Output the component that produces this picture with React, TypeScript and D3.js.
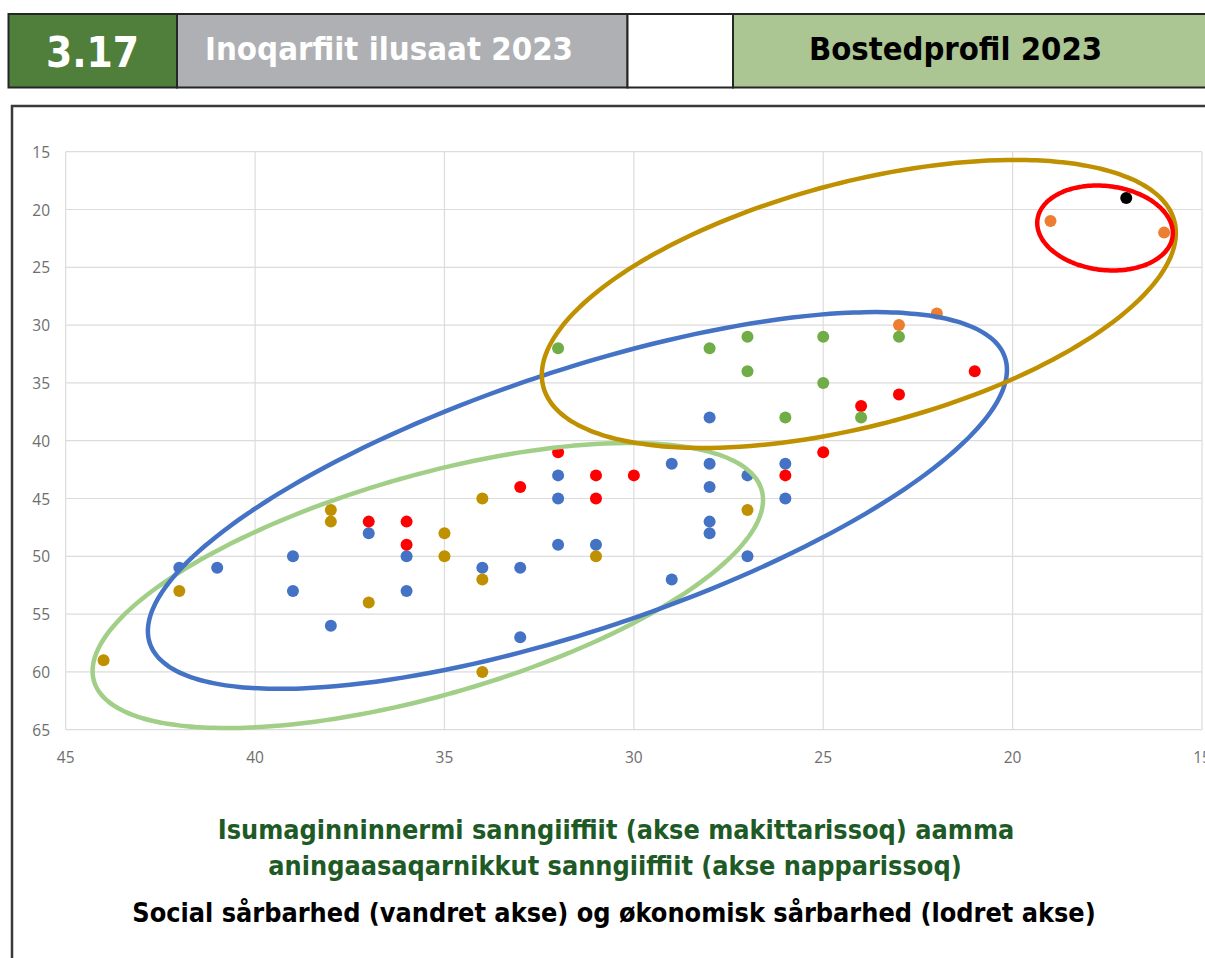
import React from 'react';
import * as d3 from 'd3';

const W = 1205;
const H = 958;

// Axis ticks
const xTicks = [45, 40, 35, 30, 25, 20, 15];
const yTicks = [15, 20, 25, 30, 35, 40, 45, 50, 55, 60, 65];

// Series (x = social vulnerability, y = economic vulnerability)
const blueX = [42, 41, 39, 39, 38, 37, 36, 36, 34, 33, 33, 32, 32, 32, 31, 29, 29, 28, 28, 28, 28, 28, 27, 27, 26, 26];
const blueY = [51, 51, 50, 53, 56, 48, 50, 53, 51, 51, 57, 43, 45, 49, 49, 42, 52, 38, 42, 44, 47, 48, 43, 50, 42, 45];

const goldX = [44, 42, 38, 38, 37, 35, 35, 34, 34, 34, 31, 27];
const goldY = [59, 53, 46, 47, 54, 48, 50, 45, 52, 60, 50, 46];

const redX = [37, 36, 36, 33, 32, 31, 31, 30, 26, 25, 24, 23, 21];
const redY = [47, 47, 49, 44, 41, 43, 45, 43, 43, 41, 37, 36, 34];

const greenX = [32, 28, 27, 27, 26, 25, 25, 24, 23];
const greenY = [32, 32, 31, 34, 38, 31, 35, 38, 31];

const orangeX = [23, 22, 19, 16];
const orangeY = [30, 29, 21, 22];

const blackX = [17];
const blackY = [19];

// Group ellipses in data units: centre, x-extreme point, vertical conjugate half-length
const ellipseNames = ['lightgreen', 'blue', 'gold', 'red'];
const ellipseCx = [35.44, 31.49, 24.06, 17.56];
const ellipseCy = [52.53, 45.17, 28.17, 21.6];
const ellipseEx = [26.59, 20.15, 15.69, 15.77];
const ellipseEy = [45.13, 33.88, 22.03, 22.03];
const ellipseV = [9.86, 11.75, 10.84, 3.65];

const C = {
  blue: '#4472C4',
  gold: '#BF9000',
  red: '#FF0000',
  green: '#70AD47',
  orange: '#ED7D31',
  black: '#000000',
};

const ellipseColors: Record<string, string> = {
  lightgreen: '#A2CF87',
  blue: '#4472C4',
  gold: '#BF9000',
  red: '#FF0000',
};

const x = d3.scaleLinear().domain([45, 15]).range([65.7, 1202]);
const y = d3.scaleLinear().domain([15, 65]).range([151.7, 729.7]);

function ellipsePath(i: number): string {
  const cx = ellipseCx[i], cy = ellipseCy[i];
  const ux = ellipseEx[i] - cx, uy = ellipseEy[i] - cy;
  const v = ellipseV[i];
  const pts: [number, number][] = d3.range(0, 360, 2).map((deg) => {
    const t = (deg * Math.PI) / 180;
    const dx = cx + ux * Math.cos(t);
    const dy = cy + uy * Math.cos(t) + v * Math.sin(t);
    return [x(dx), y(dy)];
  });
  return d3.line().curve(d3.curveCardinalClosed)(pts) || '';
}

const series = [
  { xs: blueX, ys: blueY, color: C.blue },
  { xs: goldX, ys: goldY, color: C.gold },
  { xs: redX, ys: redY, color: C.red },
  { xs: greenX, ys: greenY, color: C.green },
  { xs: orangeX, ys: orangeY, color: C.orange },
  { xs: blackX, ys: blackY, color: C.black },
];

const headFont = '"DejaVu Sans Condensed", "DejaVu Sans", Verdana, sans-serif';
const tickFont = '"Open Sans", "Liberation Sans", sans-serif';

export default function App() {
  const [x0, x1] = x.range();
  const [y0, y1] = y.range();
  return (
    <svg
      width={W}
      height={H}
      style={{ position: 'absolute', left: 0, top: 0, background: '#fff' }}
    >
      <rect x={0} y={0} width={W} height={H} fill="#ffffff" />
      {/* Header */}
      <g stroke="#262626" strokeWidth={2}>
        <rect x={8.5} y={14} width={168.5} height={73.5} fill="#507F3B" />
        <rect x={177} y={14} width={450.5} height={73.5} fill="#AEB0B3" />
        <rect x={627.5} y={14} width={105.5} height={73.5} fill="#FFFFFF" />
        <rect x={733} y={14} width={490} height={73.5} fill="#ABC593" />
      </g>
      <text x={92.5} y={67} textAnchor="middle" fill="#fff" fontFamily={headFont} fontWeight="bold" fontSize={42}>
        3.17
      </text>
      <text x={205} y={60} fill="#fff" fontFamily={headFont} fontWeight="bold" fontSize={32.7}>
        Inoqarfiit ilusaat 2023
      </text>
      <text x={955.5} y={60} textAnchor="middle" fill="#000" fontFamily={headFont} fontWeight="bold" fontSize={32.5}>
        Bostedprofil 2023
      </text>

      {/* Chart frame */}
      <rect x={12} y={106} width={1230} height={900} fill="none" stroke="#3a3a3a" strokeWidth={2.5} />

      {/* Grid */}
      <g stroke="#DCDCDC" strokeWidth={1.2}>
        {yTicks.map((t) => (
          <line key={'gy' + t} x1={x0} x2={x1} y1={y(t)} y2={y(t)} />
        ))}
        {xTicks.map((t) => (
          <line key={'gx' + t} x1={x(t)} x2={x(t)} y1={y0} y2={y1} />
        ))}
      </g>

      {/* Tick labels */}
      <g fill="#6E6E6E" fontFamily={tickFont} fontSize={15.5}>
        {yTicks.map((t) => (
          <text key={'ty' + t} x={50} y={y(t)} textAnchor="end" dominantBaseline="central">
            {t}
          </text>
        ))}
        {xTicks.map((t) => (
          <text key={'tx' + t} x={x(t)} y={757} textAnchor="middle" dominantBaseline="central">
            {t}
          </text>
        ))}
      </g>

      {/* Points */}
      {series.map((s, si) => (
        <g key={'s' + si} fill={s.color}>
          {s.xs.map((xv, i) => (
            <circle key={i} cx={x(xv)} cy={y(s.ys[i])} r={6} />
          ))}
        </g>
      ))}

      {/* Group ellipses */}
      {ellipseNames.map((n, i) => (
        <path key={n} d={ellipsePath(i)} fill="none" stroke={ellipseColors[n]} strokeWidth={4.5} />
      ))}

      {/* Caption */}
      <g fontFamily={headFont} fontWeight="bold" fontSize={26.8} textAnchor="middle">
        <text x={616} y={839} fill="#1E5A25">
          Isumaginninnermi sanngiiffiit (akse makittarissoq) aamma
        </text>
        <text x={615} y={875} fill="#1E5A25">
          aningaasaqarnikkut sanngiiffiit (akse napparissoq)
        </text>
        <text x={614} y={922} fill="#000">
          Social sårbarhed (vandret akse) og økonomisk sårbarhed (lodret akse)
        </text>
      </g>
    </svg>
  );
}
